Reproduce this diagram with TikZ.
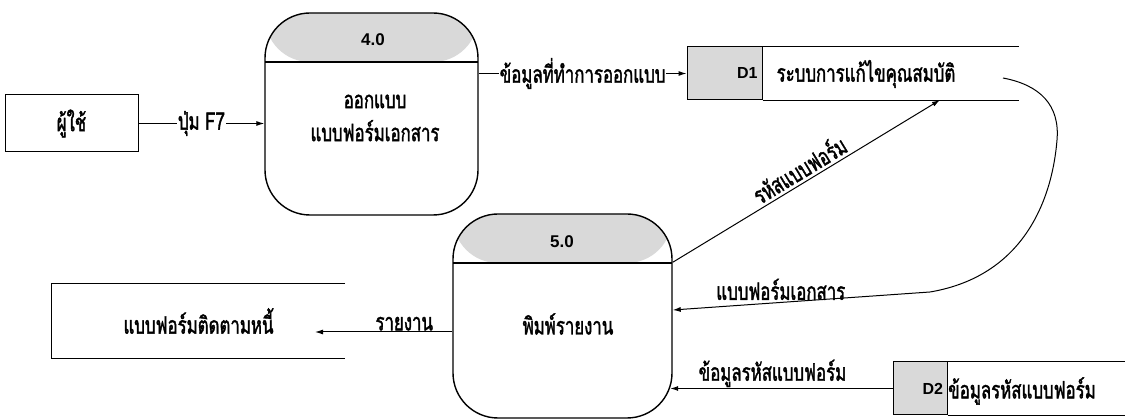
\documentclass[tikz,border=0pt]{standalone}
\usepackage{fontspec}
\setmainfont{Liberation Sans}
\newfontfamily\thai[Script=Thai,FakeStretch=0.7,FakeBold=1.6]{Loma}
\usetikzlibrary{arrows.meta,calc}
\begin{document}
\begin{tikzpicture}[x=1pt,y=-1pt,
  th/.style={font=\thai\fontsize{24}{33}\selectfont},
  idf/.style={font=\bfseries\fontsize{17}{20}\selectfont},
  proc/.style={draw, line width=1.4pt, rounded corners=45pt, inner sep=0pt,
    path picture={
      \fill[black!15] (path picture bounding box.north west) rectangle ([yshift=-49pt]path picture bounding box.north east);
      \draw[line width=1.4pt] ([yshift=-49pt]path picture bounding box.north west) -- ([yshift=-49pt]path picture bounding box.north east);
    }},
  storeid/.style={draw, fill=black!15, line width=1pt, inner sep=3pt, align=right, font=\bfseries\fontsize{16}{18}\selectfont},
  flow/.style={line width=1pt, -{Latex[length=8pt,width=5pt]}},
  lab/.style={th, fill=white, inner sep=1pt},
  olab/.style={th, inner sep=1pt},
  edge1/.style={line width=1pt}
]
\useasboundingbox (0,0) rectangle (1125,419);
\fill[white] (0,0) rectangle (1125,419);

% processes
\node[proc, minimum width=213pt, minimum height=202pt] (p4) at (371.5,114) {};
\node[idf] (p4n) at (373,40) {4.0};
\node[th, align=center] (p4t) at (375,118) {ออกแบบ\\แบบฟอร์มเอกสาร};

\node[proc, minimum width=219pt, minimum height=204pt] (p5) at (562.5,316) {};
\node[idf] (p5n) at (562,242) {5.0};
\node[th] (p5t) at (568,324) {พิมพ์รายงาน};

% external entity
\node[draw, line width=1pt, minimum width=133pt, minimum height=57pt, th] (user) at (71.5,123.5) {ผู้ใช้};

% data stores
\node[storeid, minimum width=75pt, minimum height=53pt, text width=66pt] (d1) at (724.5,73.5) {D1};
\draw[edge1] (d1.north east) -- ++(256,0);
\draw[edge1] (d1.south east) -- ++(256,0);
\node[th] (d1t) at (866,74) {ระบบการแก้ไขคุณสมบัติ};

\node[storeid, minimum width=54pt, minimum height=53pt, text width=46pt] (d2) at (920,388.5) {D2};
\draw[edge1] (d2.north east) -- ++(180,0);
\draw[edge1] (d2.south east) -- ++(180,0);
\node[th] (d2t) at (1022,391) {ข้อมูลรหัสแบบฟอร์ม};

\node[minimum width=293pt, minimum height=74pt, th] (ext) at (198.5,321) {แบบฟอร์มติดตามหนี้};
\draw[edge1] (ext.north east) -- (ext.north west) -- (ext.south west) -- (ext.south east);

% flows
\draw[flow] (user.east) -- node[lab]{ปุ่ม F7} (user.east -| p4.west);
\draw[flow] (d1.west -| p4.east) -- node[lab]{ข้อมูลที่ทำการออกแบบ} (d1.west);

\coordinate (d1b) at (940,100);
\draw[flow] ([yshift=-49pt]p5.north east) -- node[olab, above, sloped, inner sep=3pt]{รหัสแบบฟอร์ม} (d1b);

\coordinate (d1c) at (1003,78);
\draw[flow] (d1c) .. controls (1040,85) and (1060,105) .. (1057,140)
  .. controls (1053,190) and (1030,275) .. (930,292)
  -- node[olab, above, pos=0.58, inner sep=2pt]{แบบฟอร์มเอกสาร} ([yshift=6pt]p5.east);

\coordinate (extin) at (315,332);
\draw[flow] (extin -| p5.west) -- node[olab, above, pos=0.35]{รายงาน} (extin);

\draw[flow] (d2.west) -- node[olab, above, pos=0.54]{ข้อมูลรหัสแบบฟอร์ม} ([xshift=-2.5pt]d2.west -| p5.east);
\end{tikzpicture}
\end{document}
